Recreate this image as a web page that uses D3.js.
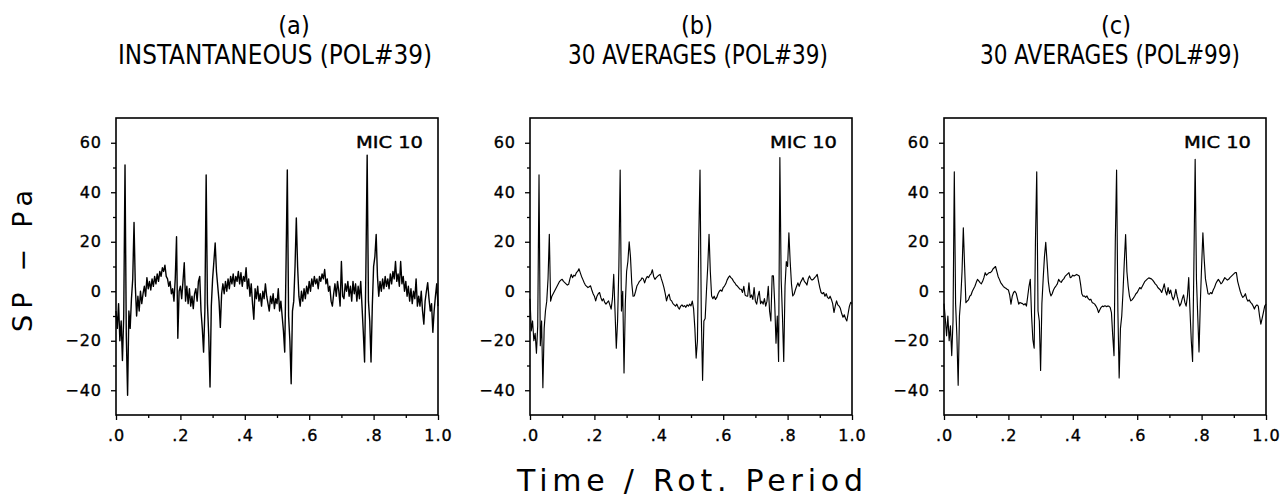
<!doctype html>
<html>
<head>
<meta charset="utf-8">
<title>SP - Pa vs Time / Rot. Period</title>
<script src="https://cdn.jsdelivr.net/npm/d3@7"></script>
<style>
  body { margin: 0; background: #fff; }
  text { fill: #000; }
</style>
</head>
<body>
<div id="chart"></div>
<script>
var panelLetters = ["(a)", "(b)", "(c)"];
var panelTitles = ["INSTANTANEOUS (POL#39)", "30 AVERAGES (POL#39)", "30 AVERAGES (POL#99)"];
var micLabel = "MIC  10";
var xTicks = [0, .2, .4, .6, .8, 1.0];
var xTickLabels = [".0", ".2", ".4", ".6", ".8", "1.0"];
var xMinor = [.1, .3, .5, .7, .9];
var yTicks = [-40, -20, 0, 20, 40, 60];
var yMinor = [-30, -10, 10, 30, 50];

// sound pressure samples, evenly spaced over one rotation period (251 per trace)
var spInstant = [
  -8, -15, -5, -20, -12, -28, -10, 51, -18, -42,
  -8, -15, -3, 5, 27.8, 2, -10, -2, -8, 0,
  -5, -1, 2, -2, 5.5, 1, 4, 0.5, 5, 2,
  6, 3, 7, 4, 8, 6, 9.5, 8, 10.5, 6,
  5, 2, 4, -1, 1, -4, 5, 22, -19, 0,
  2, -3, 4, 11.5, -4, 2, -5, 1, -6, -2,
  -7, -1, 1, -4, 4, 6, -8, -15, -24.6, -8,
  47, -5, -18, -38.7, -6, 5, 12, 19.5, 8, 2,
  -4, -14.6, -1, 3, -1, 4, 0, 5, 1, 6,
  3, 7, 2, 6, 4, 8, 3, 7.5, 2, 6,
  4, 9.5, 1, 5, -2, 3, -5, -11.3, 1, -3,
  2, -4, -1, -6, 0, -3, 3, -2, -5, -8,
  -2, -5, -1, -7, -3, -5, 1, -8, -4, -10,
  -16, -24.6, 10, 49, -10, -20, -37.4, -8, -4, 10,
  29.6, 10, -2, -6, 0, -4, 1, -3, 2, -1,
  4, 0, 5, 2, 6, 3, 5, 1, 6, 4,
  7, 5, 8.8, 3, 5, 0, 2, -4, -6, -1,
  3, -2, 4, 0, -6, 12, -2, -3, 3, 0,
  4, -2, 2, -4, 4, -1, 3, -4, 2, -3,
  4, -6, -16.6, -28.6, 8, 55, -4, -12, -28.6, -6,
  10, 14, 22.9, 6, -2, 4, 0, 5, 1, 6,
  2, 5, 1, 7, 3, 8, 5, 12, 4, 7,
  2, 12, 3, 6, 0, 4, -2, 2, -4, 1,
  -5, 0, -3, 5, -6, -2, -6, 0, -8, -13.3,
  -4, 0, 3.5, -3, -8, -5, -16.6, -8, -2, 3,
  -6
];

var spAvg39 = [
  -3, -16, -12, -20, -17, -25, -14, 47, -22, -12,
  -39, -15, -8, -4, 5, 23, -4, -2, -1, 0,
  1, 2, 3, 4, 4.5, 4.8, 4, 3.5, 3, 2.5,
  2.8, 5, 6.8, 5.5, 6.5, 6.2, 7.5, 8, 9.1, 7.5,
  6, 4.8, 3.5, 2.5, 2, 1.5, 1.8, 2.2, 0.5, -1,
  -2, -3.9, -2, -1, -0.5, -2.5, -3.9, -3, -4.5, -5.2,
  -4.5, -3.9, -5.5, -7.2, -3, 6.8, -8, -23, -12, 10,
  49, -8, 0, -33, -5, 8, 12, 20, 14, 3.3,
  -2, -1.9, 0, 2.1, 3, 4, 4.5, 5.4, 5, 3.4,
  5, 6, 5.5, 6.5, 7, 8.7, 6, 4.8, 5.5, 6,
  6.5, 6.8, 5, 3.4, 1.5, -1, -3.9, -2, -1.2, -3.5,
  -3.9, -5, -5.5, -6, -5.2, -6.5, -7.2, -6, -5.5, -6.2,
  -5.8, -6.5, -5.5, -6, -5.2, -5.9, -4, -7, -15, -27,
  -20, 20, 49, -10, -36, -12, -11, 0, 10, 23,
  8, -1.9, -3, -2, -3.3, -2.5, -1, 0, 0.5, 0,
  1.5, 2.1, 3, 4.5, 5.5, 6.2, 5.5, 5, 4, 3.4,
  2.5, 2.1, 1.5, 0.8, 0.8, -0.5, 2, -1.5, -1.9, -2,
  3.4, -2.5, -1.5, -3.3, 1.5, -4, -5.2, -2, 0, -5,
  -4, -5.2, -3, -6, -4, 2, -8, -12, 6.2, 6.2,
  -5, -21, -10, -28.4, 54, 5, -10, -28.4, 2, 12,
  10, 23.6, 12, 3, -1.9, -1.2, 0.5, 2, 3.4, 2,
  3.5, 4.5, 5.5, 4, 3.4, 2.5, 5, 6.2, 5, 4.5,
  4.8, 5.5, 6, 6.8, 4, 1.5, -0.5, -1, -0.5, -2,
  -1, -2.5, -3, -2, -3.3, -5, -8.6, -6, -3.9, -5.5,
  -6, -7, -9, -10.5, -9.5, -11, -12, -9, -6, -4.5,
  -5
];

var spAvg99 = [
  -5, -11, -18, -10, -20, -14, -26, -12, 48.3, -5,
  -18, -38, -10, -3, 8, 25.6, 10, -4.6, -4, -3.5,
  -2, -1.5, 0, 1, 2, 3.5, 4.8, 4.2, 3.5, 3,
  4, 5.5, 7.5, 6.5, 7, 7.5, 7.5, 8, 9, 9.5,
  10, 8, 6, 4.8, 3.5, 2.8, 2, 1.5, 1.2, 0.8,
  0.5, -1.5, -5.2, -2, -0.5, 0, -0.8, -3, -5.2, -4.5,
  -4.8, -5, -5.5, -5, -6, -2, 2, 4.8, -10, -19.6,
  -23, 20, 48.3, -8, -12, -32, -5, 5, 14, 19.8,
  12, 4, 0, -1.9, -1, 0.5, 1.5, 2.2, 3, 4.8,
  4, 3.6, 4.5, 5, 6, 6.5, 7, 7.5, 5.5, 5.8,
  6.5, 6.2, 6.5, 6.8, 6.5, 6.2, 3, -1, -2, -1.9,
  -2.5, -1.9, -3, -3.5, -3.2, -4.5, -4.8, -5.2, -6, -7,
  -8.6, -7.5, -6.5, -6, -6.2, -5.8, -6.2, -6, -6, -6.5,
  -8.6, -18, -26, 20, 49, -8, -35, -15, -10, 0,
  12, 22.9, 8, 2, -2, -3.9, -3.5, -2.8, -2, -1,
  -0.5, 0.5, 1.5, 1, 2, 3, 4, 4.5, 5, 5.4,
  5.2, 5, 4.5, 3.8, 3, 2.5, 1.5, 1, 0.5, -0.5,
  1, 3, 0, -1.5, 1.5, -1, 0.5, -2, -3.5, -2,
  0.8, -2, -4, -6, -5, -3, -1.5, -4.5, -6, -2,
  5.5, -8, -20, -28.4, 10, 53.3, 5, -10, -24.5, -5,
  10, 23.6, 13, 5, 2, -1, -1.2, -0.5, -1, 0.5,
  1.5, 3, 4, 4.8, 4, 3, 3.5, 4.5, 5.5, 5,
  4.5, 4.8, 5.5, 6, 6.5, 7, 7.5, 7.5, 4, 2,
  0, -1.5, -2.5, -2, -1, -3, -4, -3.5, -4.5, -5,
  -6, -7.2, -6, -5.5, -6, -10, -13.3, -11, -8.5, -6,
  -5.2
];

var series = [spInstant, spAvg39, spAvg99];

var width = 1287, height = 501;
var panelLeft = [116, 530, 944], panelW = 322;
var plotTop = 118, plotBottom = 415;
var letterShift = [17, 6, 11], titleShift = [-2, 7, 5];
var titleWidth = [314, 260, 260];

var svg = d3.select("#chart").append("svg")
    .attr("width", width)
    .attr("height", height)
    .style("font-family", "'DejaVu Sans', sans-serif");

var y = d3.scaleLinear()
    .domain([-50, 70])
    .range([plotBottom, plotTop]);

series.forEach(function(values, p){
  var g = svg.append("g").attr("transform", "translate(" + panelLeft[p] + ",0)");
  var cx = panelW / 2;

  var x = d3.scaleLinear()
      .domain([0, 1])
      .range([0, panelW]);

  // minor ticks
  g.append("g")
      .attr("transform", "translate(0," + plotBottom + ")")
      .call(d3.axisBottom(x).tickValues(xMinor).tickSize(3).tickFormat(""))
      .call(cleanAxis);
  g.append("g")
      .call(d3.axisLeft(y).tickValues(yMinor).tickSize(3).tickFormat(""))
      .call(cleanAxis);

  // major ticks + labels
  g.append("g")
      .attr("transform", "translate(0," + plotBottom + ")")
      .call(d3.axisBottom(x).tickValues(xTicks).tickSize(5).tickPadding(10)
        .tickFormat(function(d, i){ return xTickLabels[i]; }))
      .call(cleanAxis);
  g.append("g")
      .call(d3.axisLeft(y).tickValues(yTicks).tickSize(5).tickPadding(9)
        .tickFormat(function(d){ return d < 0 ? "\u2212" + (-d) : d; }))
      .call(cleanAxis);

  var line = d3.line()
      .x(function(d, i){ return x(i / (values.length - 1)); })
      .y(function(d){ return y(d); });

  g.append("path")
      .datum(values)
      .attr("fill", "none")
      .attr("stroke", "#000")
      .attr("stroke-width", p == 0 ? 1.4 : 1.15)
      .attr("stroke-linejoin", "round")
      .attr("d", line);

  g.append("rect")
      .attr("x", 0)
      .attr("y", plotTop)
      .attr("width", panelW)
      .attr("height", plotBottom - plotTop)
      .attr("fill", "none")
      .attr("stroke", "#000")
      .attr("stroke-width", 1.6);

  g.append("text")
      .attr("x", panelW - 15)
      .attr("y", plotTop + 30)
      .attr("text-anchor", "end")
      .attr("font-size", 15)
      .attr("stroke", "#000")
      .attr("stroke-width", 0.4)
      .attr("textLength", 67)
      .attr("lengthAdjust", "spacingAndGlyphs")
      .text(micLabel);

  g.append("text")
      .attr("x", cx + letterShift[p])
      .attr("y", 34)
      .attr("text-anchor", "middle")
      .attr("font-size", 25)
      .style("font-family", "'Liberation Sans Narrow', 'DejaVu Sans Condensed', sans-serif")
      .text(panelLetters[p]);

  g.append("text")
      .attr("x", cx + titleShift[p])
      .attr("y", 64)
      .attr("text-anchor", "middle")
      .attr("font-size", 26)
      .attr("textLength", titleWidth[p])
      .attr("lengthAdjust", "spacingAndGlyphs")
      .style("font-family", "'Liberation Sans Narrow', 'DejaVu Sans Condensed', sans-serif")
      .text(panelTitles[p]);
});

svg.append("text")
    .attr("transform", "translate(32,261) rotate(-90)")
    .attr("text-anchor", "middle")
    .attr("font-size", 27)
    .attr("textLength", 142)
    .attr("lengthAdjust", "spacing")
    .text("SP \u2212 Pa");

svg.append("text")
    .attr("x", 690)
    .attr("y", 491)
    .attr("text-anchor", "middle")
    .attr("font-size", 30)
    .attr("textLength", 346)
    .attr("lengthAdjust", "spacing")
    .text("Time / Rot. Period");

function cleanAxis(g) {
  g.select(".domain").remove();
  g.selectAll(".tick line").attr("stroke", "#000").attr("stroke-width", 1.3);
  g.selectAll(".tick text")
    .attr("font-size", 16)
    .attr("letter-spacing", 1)
    .attr("stroke", "#000")
    .attr("stroke-width", 0.35)
    .style("font-family", "'DejaVu Sans', sans-serif");
}
</script>
</body>
</html>
